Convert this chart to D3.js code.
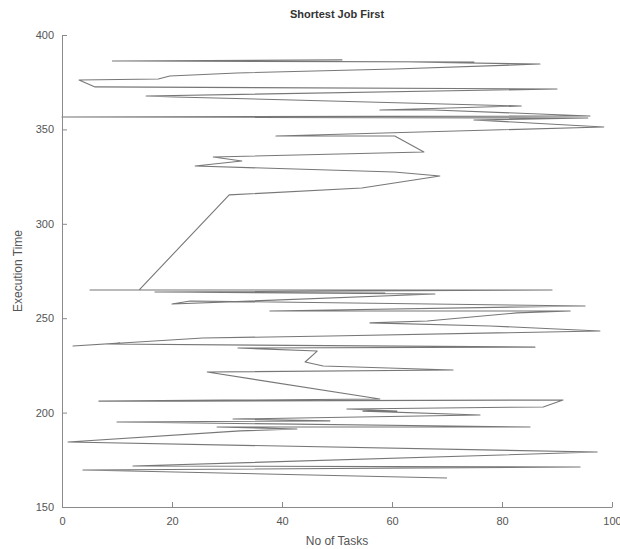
<!DOCTYPE html>
<html>
<head>
<meta charset="utf-8">
<script src="https://cdn.jsdelivr.net/npm/d3@7"></script>
<style>
  html, body { margin: 0; padding: 0; background: #fff; }
  svg { display: block; font-family: "Liberation Sans", Arial, sans-serif; }
</style>
</head>
<body>
<svg id="chart"></svg>
<script>
// No of Tasks (x) and Execution Time (y) in path order
const tasks = [
  9.1, 50.9, 11.6, 74.9, 63.1, 86.9, 60.5, 31.8, 19.6, 17.5,
  3.1, 6.0, 90.0, 15.3, 20.5, 83.5, 57.8, 67.6, 96.0, 0.0,
  95.6, 74.9, 98.5, 38.9, 60.5, 65.8, 27.5, 32.7, 24.2, 60.4,
  68.7, 54.5, 30.4, 14.0, 5.1, 89.1, 16.9, 58.7, 17.8, 67.8,
  20.0, 23.3, 95.1, 37.8, 92.4, 82.7, 66.4, 56.0, 77.8, 97.8,
  48.7, 25.6, 2.0, 10.5, 8.2, 86.0, 32.0, 46.4, 44.2, 47.5,
  71.1, 26.4, 57.8, 6.7, 24.5, 22.0, 91.1, 87.5, 51.8, 60.9,
  54.7, 76.0, 31.1, 48.7, 10.0, 85.1, 28.2, 42.7, 32.4, 1.1,
  97.3, 12.9, 94.2, 3.8, 70.0
];
const execTime = [
  386.2, 386.8, 386.2, 385.7, 385.7, 384.6, 382.0, 379.9, 378.3, 376.7,
  376.2, 372.5, 371.4, 367.7, 367.2, 362.4, 360.3, 360.3, 357.1, 356.6,
  356.0, 355.0, 351.3, 346.5, 346.5, 338.0, 335.4, 333.3, 330.6, 327.4,
  325.3, 319.0, 315.3, 264.9, 264.9, 264.9, 263.9, 263.3, 263.9, 262.8,
  257.5, 259.1, 256.5, 253.8, 253.8, 252.8, 248.5, 247.5, 245.9, 243.2,
  240.6, 239.5, 235.3, 236.9, 236.3, 234.7, 234.2, 232.6, 226.8, 224.7,
  222.6, 221.5, 207.2, 206.1, 206.1, 206.1, 206.7, 203.0, 201.9, 200.8,
  200.8, 198.7, 196.6, 195.6, 195.0, 192.4, 192.4, 191.3, 190.3, 184.4,
  179.1, 171.7, 171.2, 169.6, 165.4
];
const xTicks = [0, 20, 40, 60, 80, 100];
const yTicks = [150, 200, 250, 300, 350, 400];

const width = 620, height = 549;
const margin = { top: 35, right: 8, bottom: 42, left: 62 };

const svg = d3.select("#chart").attr("width", width).attr("height", height);

const x = d3.scaleLinear().domain([0, 100]).range([margin.left, width - margin.right]);
const y = d3.scaleLinear().domain([150, 400]).range([height - margin.bottom, margin.top]);

const axisColor = "#8a8a8a";
const textColor = "#555";

// line
const points = tasks.map((t, i) => [t, execTime[i]]);
svg.append("path")
  .datum(points)
  .attr("fill", "none")
  .attr("stroke", "#4a4a4a")
  .attr("stroke-opacity", 0.75)
  .attr("stroke-width", 1.1)
  .attr("stroke-linejoin", "round")
  .attr("d", d3.line().x((d) => x(d[0])).y((d) => y(d[1])));

// axes, ticks inward like matlab
const xAxis = svg.append("g")
  .attr("transform", `translate(0,${y(150)})`)
  .call(d3.axisBottom(x).tickValues(xTicks).tickSizeInner(-5).tickSizeOuter(0).tickPadding(10));
const yAxis = svg.append("g")
  .attr("transform", `translate(${x(0)},0)`)
  .call(d3.axisLeft(y).tickValues(yTicks).tickSizeInner(-5).tickSizeOuter(0).tickPadding(8));

[xAxis, yAxis].forEach((g) => {
  g.select(".domain").attr("stroke", axisColor);
  g.selectAll(".tick line").attr("stroke", axisColor);
  g.selectAll(".tick text").attr("fill", textColor).attr("font-size", 11)
    .attr("font-family", "Liberation Sans, Arial, sans-serif");
});

// title and labels
svg.append("text")
  .attr("x", (x(0) + x(100)) / 2)
  .attr("y", 18)
  .attr("text-anchor", "middle")
  .attr("font-size", 11)
  .attr("font-weight", "bold")
  .attr("fill", "#333")
  .text("Shortest Job First");

svg.append("text")
  .attr("x", (x(0) + x(100)) / 2)
  .attr("y", 545)
  .attr("text-anchor", "middle")
  .attr("font-size", 12)
  .attr("fill", textColor)
  .text("No of Tasks");

svg.append("text")
  .attr("transform", `translate(22,${(y(150) + y(400)) / 2}) rotate(-90)`)
  .attr("text-anchor", "middle")
  .attr("font-size", 12)
  .attr("fill", textColor)
  .text("Execution Time");
</script>
</body>
</html>
